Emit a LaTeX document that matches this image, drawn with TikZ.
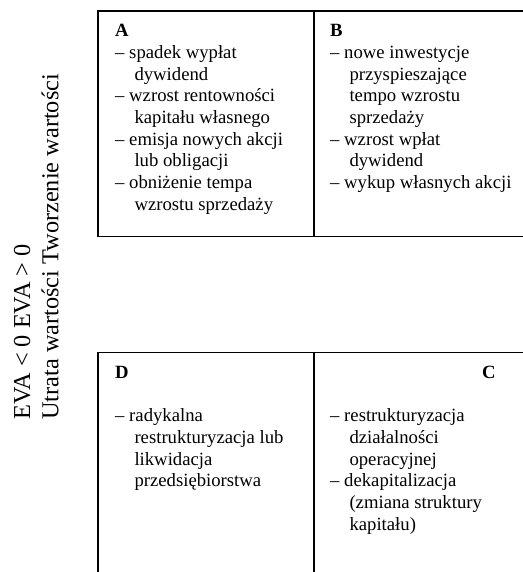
\documentclass[tikz,border=0pt]{standalone}
\usepackage{fontspec}
\setmainfont{Liberation Serif}
\begin{document}
\begin{tikzpicture}[x=1pt,y=1pt,
  frame/.style={line width=1.6pt, black},
  body/.style={inner sep=0pt, anchor=base west, font=\fontsize{18.7}{21.7}\selectfont},
  side/.style={inner sep=0pt, anchor=base west, rotate=90, font=\fontsize{24.3}{28.3}\selectfont}]
\useasboundingbox (0,0) rectangle (522,572);
% frames
\coordinate (tl) at (98,561);
\coordinate (tr) at (523,561);
\coordinate (bl) at (98,335.5);
\coordinate (br) at (523,335.5);
\coordinate (tm) at (314,561);
\coordinate (bm) at (314,335.5);
\draw[frame] (tr) -- (tl) -- (bl) -- (br);
\draw[frame] (tm) -- (bm);
\coordinate (tl2) at (98,219.3);
\coordinate (tr2) at (523,219.3);
\coordinate (bl2) at (98,-2);
\coordinate (tm2) at (314,219.3);
\coordinate (bm2) at (314,-2);
\draw[frame] (tr2) -- (tl2) -- (bl2);
\draw[frame] (tm2) -- (bm2);
% side labels
\node[side] (side) at (30,152) {\begin{tabular}[t]{@{}l@{}}EVA < 0 EVA > 0\\Utrata wartości Tworzenie wartości\end{tabular}};
% quadrant A
\node[body] (qa) at (115,535.3) {\begin{tabular}[t]{@{}l@{}}\textbf{A}\\
– spadek wypłat\\
\hspace*{19.3pt}dywidend\\
– wzrost rentowności\\
\hspace*{19.3pt}kapitału własnego\\
– emisja nowych akcji\\
\hspace*{19.3pt}lub obligacji\\
– obniżenie tempa\\
\hspace*{19.3pt}wzrostu sprzedaży\end{tabular}};
% quadrant B
\node[body] (qb) at (330,535.3) {\begin{tabular}[t]{@{}l@{}}\textbf{B}\\
– nowe inwestycje\\
\hspace*{19.3pt}przyspieszające\\
\hspace*{19.3pt}tempo wzrostu\\
\hspace*{19.3pt}sprzedaży\\
– wzrost wpłat\\
\hspace*{19.3pt}dywidend\\
– wykup własnych akcji\end{tabular}};
% quadrant D
\node[body] (qd) at (115,193.7) {\begin{tabular}[t]{@{}l@{}}\textbf{D}\\[21.7pt]
– radykalna\\
\hspace*{19.3pt}restrukturyzacja lub\\
\hspace*{19.3pt}likwidacja\\
\hspace*{19.3pt}przedsiębiorstwa\end{tabular}};
% quadrant C
\node[body, anchor=base east] (qcl) at (495.7,193.7) {\textbf{C}};
\node[body] (qc) at (330,150.3) {\begin{tabular}[t]{@{}l@{}}– restrukturyzacja\\
\hspace*{19.3pt}działalności\\
\hspace*{19.3pt}operacyjnej\\
– dekapitalizacja\\
\hspace*{19.3pt}(zmiana struktury\\
\hspace*{19.3pt}kapitału)\end{tabular}};
\end{tikzpicture}
\end{document}
